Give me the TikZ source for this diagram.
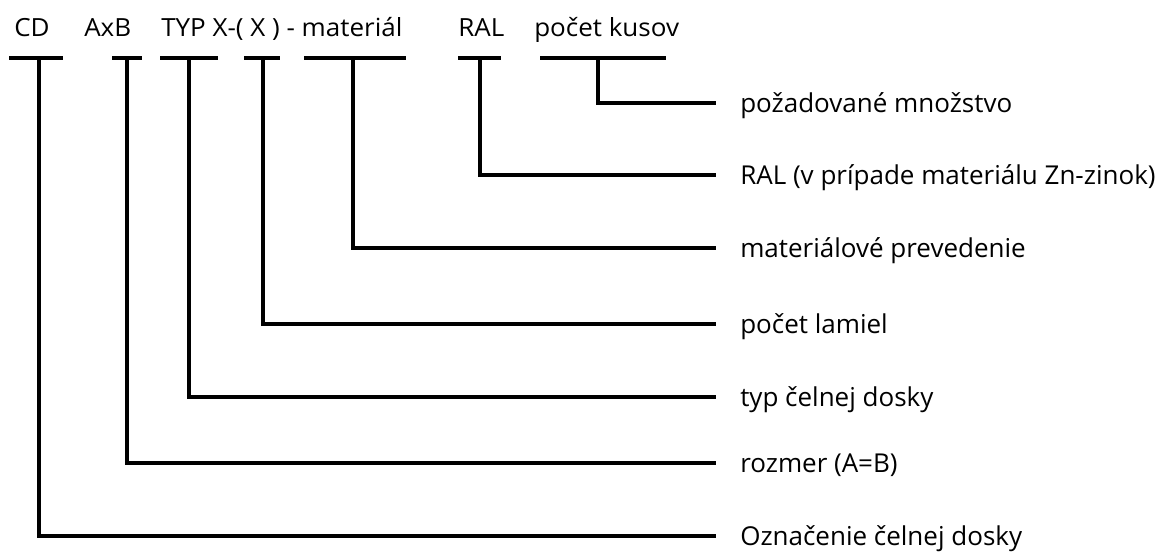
\documentclass[tikz,border=0pt]{standalone}
\usepackage{fontspec}
\setmainfont{Open Sans}
\newfontfamily\headfont[FakeStretch=1.04]{Open Sans}

\begin{document}
\begin{tikzpicture}[x=0.75pt,y=-0.75pt,
	head/.style={anchor=base west,inner sep=0pt,font=\headfont\fontsize{18.75pt}{22pt}\selectfont},
	desc/.style={anchor=west,inner sep=0pt,text height=13.9pt,text depth=0pt,font=\fontsize{19.5pt}{22pt}\selectfont},
	bar/.style={line width=3.5pt},
	lead/.style={line width=3pt,shorten >=18pt}]
	\useasboundingbox (0,0) rectangle (1171,552);
	% code line
	\node[head] (hcd) at (14,37) {CD};
	\node[head] (haxb) at (84,37) {AxB};
	\node[head] (htyp) at (161,37) {TYP X-( X ) - materiál};
	\node[head] (hral) at (458,37) {RAL};
	\node[head] (hkus) at (534,37) {počet kusov};
	% bars
	\draw[bar] (9,58) -- (63,58);
	\draw[bar] (112,58) -- (142,58);
	\draw[bar] (160,58) -- (218,58);
	\draw[bar] (244,58) -- (280,58);
	\draw[bar] (304,58) -- (406,58);
	\draw[bar] (458,58) -- (501,58);
	\draw[bar] (540,58) -- (666,58);
	\coordinate (cd) at (39,58);
	\coordinate (axb) at (127,58);
	\coordinate (typ) at (189,58);
	\coordinate (x) at (263,58);
	\coordinate (mat) at (353,58);
	\coordinate (ral) at (480,58);
	\coordinate (kus) at (598,58);
	% descriptions
	\node[desc] (dkus) at (740,103) {požadované množstvo};
	\node[desc] (dral) at (740,175) {RAL (v prípade materiálu Zn-zinok)};
	\node[desc] (dmat) at (740,248) {materiálové prevedenie};
	\node[desc] (dx) at (740,324) {počet lamiel};
	\node[desc] (dtyp) at (740,397) {typ čelnej dosky};
	\node[desc] (daxb) at (740,463) {rozmer (A=B)};
	\node[desc] (dcd) at (740,536) {Označenie čelnej dosky};
	\draw[lead] (kus) |- (dkus.west);
	\draw[lead] (ral) |- (dral.west);
	\draw[lead] (mat) |- (dmat.west);
	\draw[lead] (x) |- (dx.west);
	\draw[lead] (typ) |- (dtyp.west);
	\draw[lead] (axb) |- (daxb.west);
	\draw[lead] (cd) |- (dcd.west);
\end{tikzpicture}
\end{document}
